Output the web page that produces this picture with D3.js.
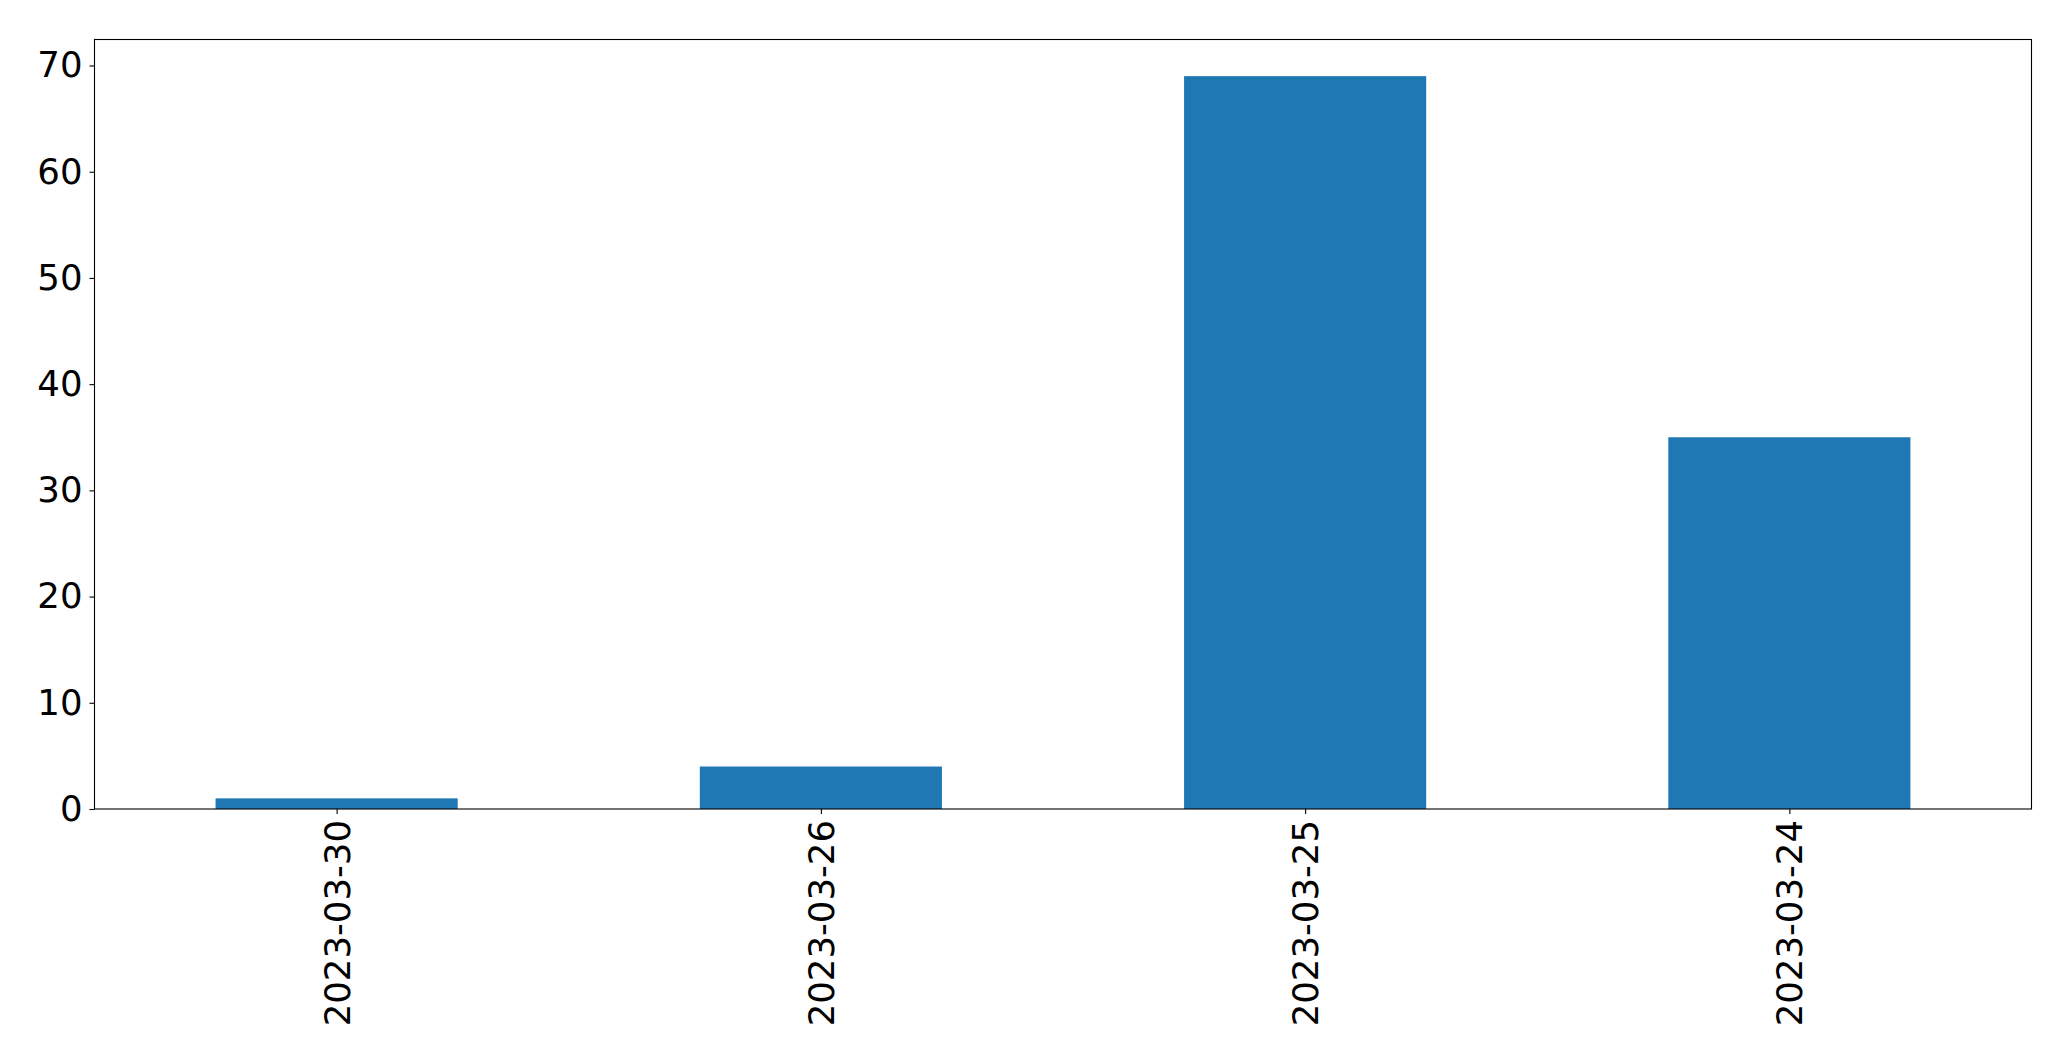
<!DOCTYPE html>
<html><head><meta charset="utf-8">
<script src="https://cdn.jsdelivr.net/npm/d3@7"></script>
<style>body{margin:0;background:#fff}svg{display:block}</style>
</head><body>
<script>
const categories = ["2023-03-30","2023-03-26","2023-03-25","2023-03-24"];
const values = [1, 4, 69, 35];
const yTicks = [0,10,20,30,40,50,60,70];

const W = 2071, H = 1061;
const m = {left:94.5, right:2031.5, top:39.5, bottom:809};
const svg = d3.select("body").append("svg").attr("width",W).attr("height",H);

const x = d3.scaleLinear().domain([-0.5, categories.length-0.5]).range([m.left, m.right]);
const y = d3.scaleLinear().domain([0, d3.max(values)*1.05]).range([m.bottom, m.top]);

const font = "'DejaVu Sans', sans-serif";
const fs = 35.5;

svg.append("g").selectAll("rect").data(values).join("rect")
  .attr("x",(d,i)=>x(i-0.25)).attr("width",(d,i)=>x(i+0.25)-x(i-0.25))
  .attr("y",d=>y(d)).attr("height",d=>y(0)-y(d))
  .attr("fill","#1f77b4");

const yAxis = svg.append("g").attr("transform",`translate(${m.left},0)`)
  .call(d3.axisLeft(y).tickValues(yTicks).tickSize(5).tickPadding(7).tickFormat(d3.format("d")));
yAxis.select(".domain").remove();
yAxis.selectAll("line").attr("stroke","#000").attr("stroke-width",1.1);
yAxis.selectAll("text").attr("font-family",font).attr("font-size",fs).attr("fill","#000");

const xAxis = svg.append("g").attr("transform",`translate(0,${m.bottom})`)
  .call(d3.axisBottom(x).tickValues(d3.range(categories.length)).tickSize(5).tickFormat(i=>categories[i]));
xAxis.select(".domain").remove();
xAxis.selectAll("line").attr("stroke","#000").attr("stroke-width",1.1);
xAxis.selectAll("text").attr("font-family",font).attr("font-size",fs).attr("fill","#000")
  .attr("transform","rotate(-90)").attr("text-anchor","end").attr("dy","0.35em")
  .attr("x",-11).attr("y",0);

svg.append("rect").attr("x",m.left).attr("y",m.top)
  .attr("width",m.right-m.left).attr("height",m.bottom-m.top)
  .attr("fill","none").attr("stroke","#000").attr("stroke-width",1.1);
</script>
</body></html>
